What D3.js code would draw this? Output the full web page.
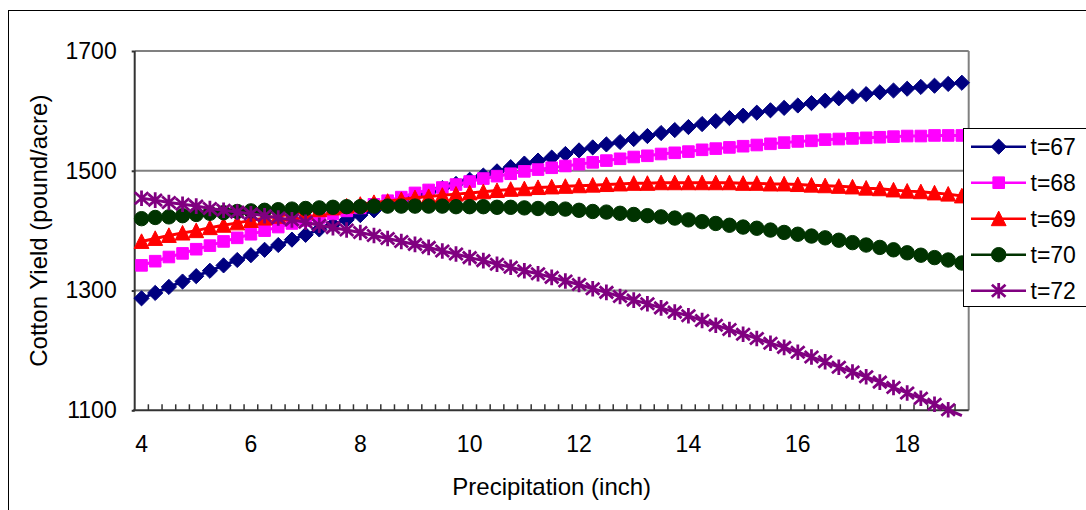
<!DOCTYPE html>
<html>
<head>
<meta charset="utf-8">
<script src="https://cdn.jsdelivr.net/npm/d3@7/dist/d3.min.js"></script>
<style>
  html, body { margin: 0; padding: 0; background: #fff; }
  svg { display: block; font-family: "Liberation Sans", Arial, sans-serif; }
</style>
</head>
<body>
<svg id="chart" width="1086" height="510"></svg>
<script>
// Precipitation categories (inch), one per data point
const categories = [4, 4.25, 4.5, 4.75, 5, 5.25, 5.5, 5.75, 6, 6.25, 6.5, 6.75, 7, 7.25, 7.5, 7.75,
  8, 8.25, 8.5, 8.75, 9, 9.25, 9.5, 9.75, 10, 10.25, 10.5, 10.75, 11, 11.25, 11.5, 11.75,
  12, 12.25, 12.5, 12.75, 13, 13.25, 13.5, 13.75, 14, 14.25, 14.5, 14.75, 15, 15.25, 15.5, 15.75,
  16, 16.25, 16.5, 16.75, 17, 17.25, 17.5, 17.75, 18, 18.25, 18.5, 18.75, 19];

// Categories that carry a label on the x axis
const xTickLabels = [4, 6, 8, 10, 12, 14, 16, 18];
const yTickValues = [1100, 1300, 1500, 1700];

// Cotton yield (pound/acre) for each temperature scenario
const t67 = [1287, 1296, 1306, 1315, 1324, 1333, 1342, 1351, 1359, 1368, 1376, 1385, 1393, 1402, 1410, 1418,
  1426, 1434, 1442, 1449, 1457, 1464, 1471, 1478, 1485, 1492, 1499, 1506, 1512, 1517, 1522, 1528,
  1534, 1539, 1544, 1548, 1553, 1558, 1563, 1568, 1573, 1578, 1583, 1588, 1592, 1597, 1601, 1605,
  1609, 1613, 1617, 1621, 1624, 1628, 1631, 1634, 1637, 1640, 1642, 1645, 1647];
const t68 = [1342, 1349, 1356, 1362, 1369, 1375, 1382, 1388, 1394, 1400, 1406, 1412, 1417, 1422, 1428, 1433,
  1438, 1444, 1450, 1456, 1463, 1468, 1472, 1477, 1482, 1487, 1491, 1495, 1499, 1502, 1505, 1508,
  1511, 1514, 1517, 1520, 1523, 1525, 1528, 1530, 1532, 1535, 1537, 1539, 1541, 1543, 1545, 1547,
  1549, 1550, 1552, 1553, 1554, 1555, 1556, 1557, 1558, 1558, 1559, 1559, 1559];
const t69 = [1382, 1387, 1392, 1396, 1400, 1405, 1409, 1413, 1417, 1421, 1424, 1428, 1431, 1435, 1438, 1441,
  1444, 1447, 1449, 1452, 1455, 1457, 1459, 1461, 1463, 1465, 1467, 1469, 1470, 1472, 1473, 1474,
  1475, 1476, 1477, 1478, 1479, 1479, 1480, 1480, 1480, 1480, 1480, 1480, 1479, 1479, 1478, 1478,
  1477, 1476, 1475, 1474, 1473, 1471, 1470, 1468, 1466, 1465, 1463, 1461, 1458];
const t70 = [1420, 1422, 1423, 1425, 1427, 1429, 1430, 1432, 1433, 1434, 1435, 1436, 1437, 1438, 1439, 1440,
  1440, 1441, 1441, 1441, 1441, 1441, 1441, 1440, 1440, 1440, 1439, 1439, 1438, 1437, 1437, 1436,
  1434, 1432, 1431, 1429, 1427, 1425, 1423, 1421, 1418, 1415, 1412, 1409, 1406, 1404, 1401, 1397,
  1394, 1391, 1388, 1384, 1380, 1376, 1372, 1368, 1363, 1359, 1355, 1351, 1346];
const t72 = [1454, 1451, 1447, 1444, 1441, 1437, 1434, 1431, 1428, 1425, 1421, 1418, 1414, 1409, 1405, 1401,
  1397, 1392, 1387, 1382, 1377, 1372, 1366, 1361, 1355, 1350, 1344, 1339, 1333, 1328, 1322, 1316,
  1310, 1303, 1297, 1290, 1284, 1278, 1271, 1264, 1258, 1250, 1242, 1235, 1227, 1220, 1212, 1205,
  1197, 1189, 1181, 1172, 1164, 1156, 1147, 1138, 1129, 1120, 1110, 1101, 1091];

const seriesNames = ["t=67", "t=68", "t=69", "t=70", "t=72"];
const seriesValues = [t67, t68, t69, t70, t72];
const seriesColors = ["#000080", "#ff00ff", "#ff0000", "#003300", "#800080"];
const seriesMarkers = ["diamond", "square", "triangle", "circle", "star"];

const svg = d3.select("#chart");
const plot = { left: 134.7, right: 968.7, top: 51, bottom: 410.3 };
const fontFamily = "Liberation Sans, Arial, sans-serif";

// Outer chart frame (runs off the right and bottom edges)
svg.append("rect")
  .attr("x", 8.5).attr("y", 10.5).attr("width", 1200).attr("height", 600)
  .attr("fill", "none").attr("stroke", "#000").attr("stroke-width", 1);

const x = d3.scaleBand().domain(categories).range([plot.left, plot.right]).padding(0);
const cx = d => x(d) + x.bandwidth() / 2;
const y = d3.scaleLinear().domain([1100, 1700]).range([plot.bottom, plot.top]);

// Horizontal gridlines
svg.append("g").selectAll("line").data(yTickValues.slice(1)).join("line")
  .attr("x1", plot.left).attr("x2", plot.right)
  .attr("y1", d => y(d)).attr("y2", d => y(d))
  .attr("stroke", "#808080").attr("stroke-width", 2);

// Plot-area border on the right
svg.append("line")
  .attr("x1", plot.right).attr("x2", plot.right)
  .attr("y1", plot.top).attr("y2", plot.bottom)
  .attr("stroke", "#808080").attr("stroke-width", 2);

// Y axis
const yAxis = svg.append("g")
  .attr("transform", `translate(${plot.left},0)`)
  .call(d3.axisLeft(y).tickValues(yTickValues).tickSize(3).tickPadding(15).tickFormat(d3.format("d")));
yAxis.select(".domain").attr("stroke", "#333").attr("stroke-width", 2).attr("d", `M0,${plot.top}V${plot.bottom}`);
yAxis.selectAll(".tick line").attr("stroke", "#333").attr("stroke-width", 2);
yAxis.selectAll(".tick text").attr("font-size", 23).attr("fill", "#000").attr("font-family", fontFamily);

// X axis: labels centred on categories, tick marks on category boundaries pointing inward
const xAxis = svg.append("g")
  .attr("transform", `translate(0,${plot.bottom})`)
  .call(d3.axisBottom(x).tickValues(xTickLabels).tickSize(0).tickPadding(25).tickFormat(d3.format("d")));
xAxis.select(".domain").attr("stroke", "#333").attr("stroke-width", 2).attr("d", `M${plot.left - 1.5},0H${plot.right}`);
xAxis.selectAll(".tick text").attr("font-size", 23).attr("fill", "#000").attr("font-family", fontFamily);

svg.append("g").selectAll("line").data(categories.slice(1)).join("line")
  .attr("x1", d => x(d)).attr("x2", d => x(d))
  .attr("y1", plot.bottom).attr("y2", plot.bottom - 6)
  .attr("stroke", "#333").attr("stroke-width", 1.5);

// Axis titles
svg.append("text")
  .attr("x", (plot.left + plot.right) / 2).attr("y", 495)
  .attr("text-anchor", "middle").attr("font-size", 24).attr("fill", "#000")
  .text("Precipitation (inch)");
svg.append("text")
  .attr("transform", `translate(47,${(plot.top + plot.bottom) / 2}) rotate(-90)`)
  .attr("text-anchor", "middle").attr("font-size", 24).attr("fill", "#000")
  .text("Cotton Yield (pound/acre)");

// Marker shapes
function markerPath(type) {
  switch (type) {
    case "diamond": return "M0,-7.6L7.6,0L0,7.6L-7.6,0Z";
    case "square": return "M-5.8,-5.8H5.8V5.8H-5.8Z";
    case "triangle": return "M0,-7.6L7.4,7H-7.4Z";
    case "circle": return d3.symbol(d3.symbolCircle, Math.PI * 7.2 * 7.2)();
    case "star": return "M0,-7.8V7.8M-6.8,-6L6.8,6M-6.8,6L6.8,-6";
  }
}
function drawMarker(sel, type, color) {
  const isStar = type === "star";
  sel.attr("d", markerPath(type))
    .attr("fill", isStar ? "none" : color)
    .attr("stroke", color)
    .attr("stroke-width", isStar ? 2.8 : 1);
}

const line = d3.line().x((d, i) => cx(categories[i])).y(d => y(d));

seriesValues.forEach((vals, s) => {
  const g = svg.append("g");
  g.append("path").datum(vals)
    .attr("d", line)
    .attr("fill", "none").attr("stroke", seriesColors[s]).attr("stroke-width", 3);
  const pts = vals.map((v, i) => ({ c: categories[i], v })).filter(p => p.v >= 1100 && p.v <= 1700);
  g.selectAll("path.m").data(pts).join("path")
    .attr("class", "m")
    .attr("transform", p => `translate(${cx(p.c)},${y(p.v)})`)
    .call(drawMarker, seriesMarkers[s], seriesColors[s]);
});

// Legend
const legend = svg.append("g");
legend.append("rect")
  .attr("x", 963.5).attr("y", 128.5).attr("width", 200).attr("height", 178)
  .attr("fill", "#fff").attr("stroke", "#000").attr("stroke-width", 1);
const legendY = d3.scalePoint().domain(seriesNames).range([146.7, 290.7]);
seriesNames.forEach((name, s) => {
  const ly = legendY(name);
  legend.append("line")
    .attr("x1", 971).attr("x2", 1026).attr("y1", ly).attr("y2", ly)
    .attr("stroke", seriesColors[s]).attr("stroke-width", 2.6);
  legend.append("path")
    .attr("transform", `translate(998.7,${ly})`)
    .call(drawMarker, seriesMarkers[s], seriesColors[s]);
  legend.append("text")
    .attr("x", 1030.5).attr("y", ly).attr("dy", "0.36em")
    .attr("font-size", 23).attr("fill", "#000")
    .text(name);
});
</script>
</body>
</html>
